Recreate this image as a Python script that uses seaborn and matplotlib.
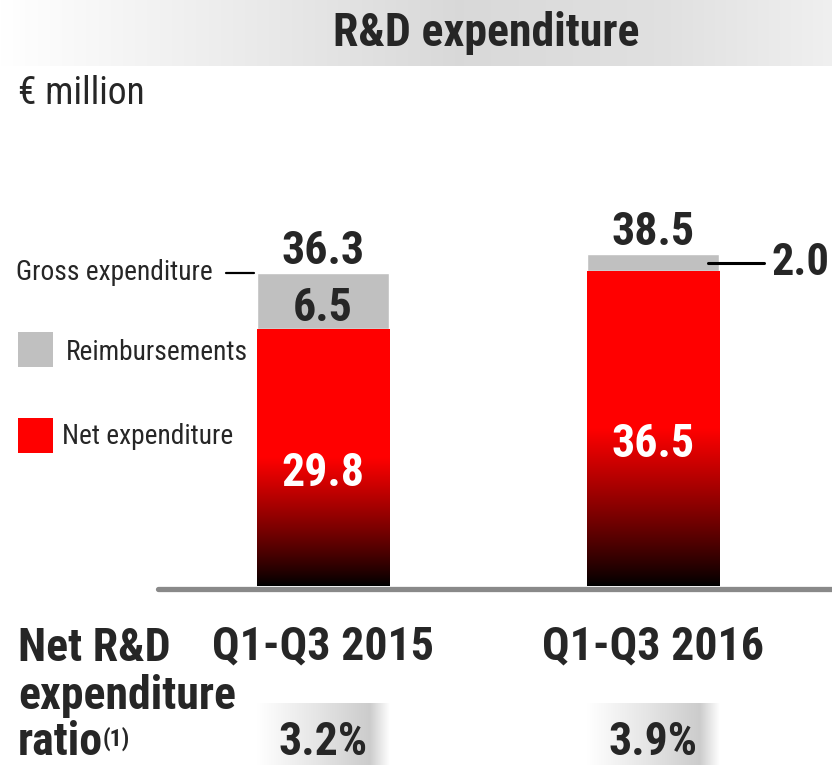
import numpy as np
import pandas as pd
import matplotlib
matplotlib.use('Agg')
import matplotlib.pyplot as plt
import matplotlib.transforms as mtransforms
from matplotlib.patches import Rectangle
import seaborn as sns

# chart values
periods = ['Q1-Q3 2015', 'Q1-Q3 2016']
net_exp = [29.8, 36.5]
reimbursements = [6.5, 2.0]
gross_exp = [36.3, 38.5]
net_ratio = ['3.2%', '3.9%']

df = pd.DataFrame({'period': periods, 'net': net_exp,
                   'reimb': reimbursements, 'gross': gross_exp})

sns.set_style('white')
plt.rcParams['font.family'] = ['Roboto Condensed', 'DejaVu Sans']

W, H = 832, 765
RED = '#ff0000'
GREY = '#c0c0c0'

fig = plt.figure(figsize=(W / 100, H / 100), dpi=100)

# background axes in pixel coordinates for decorations
bg = fig.add_axes([0, 0, 1, 1], zorder=0)
bg.axis('off')

# title band with grey gradient
t = np.linspace(0, 1, 400)
lvl = np.interp(t, [0, 0.3, 0.55, 0.8, 1], [1.0, 0.92, 0.85, 0.88, 0.94])
band = np.dstack([lvl, lvl, lvl]).reshape(1, -1, 3).repeat(2, axis=0)
bg.imshow(band, extent=[0, W, 66, 0], aspect='auto', interpolation='bilinear')
bg.text(486, 33, 'R&D expenditure', ha='center', va='center',
        fontsize=33, fontweight='bold')
bg.text(18, 93, '€ million', ha='left', va='center', fontsize=27)

# legend
bg.add_patch(Rectangle((18, 332), 35, 35, color=GREY, lw=0))
bg.text(66, 352, 'Reimbursements', va='center', fontsize=19.7)
bg.add_patch(Rectangle((18, 418), 35, 35, color=RED, lw=0))
bg.text(62, 436, 'Net expenditure', va='center', fontsize=19.7)

# main bar axes
ax = fig.add_axes([158 / W, (H - 586) / H, (W - 158) / W, (586 - 155) / H], zorder=2)
ax.patch.set_alpha(0)

sns.barplot(data=df, x='period', y='gross', color=GREY, saturation=1,
            width=0.4, errorbar=None, ax=ax)
n0 = len(ax.patches)
sns.barplot(data=df, x='period', y='net', color=RED, saturation=1,
            width=0.4, errorbar=None, ax=ax)
net_bars = ax.patches[n0:]

# red -> black gradient on the net bars
for p in net_bars:
    x0, w, h = p.get_x(), p.get_width(), p.get_height()
    tt = np.linspace(0, 1, 256)
    r = np.clip(tt / 0.5, 0, 1) ** 0.9
    img = np.zeros((256, 1, 3))
    img[:, 0, 0] = r
    im = ax.imshow(img, extent=[x0, x0 + w, 0, h], origin='lower', aspect='auto',
                   interpolation='bilinear', zorder=p.get_zorder() + 0.1)
    im.set_clip_path(p)

ax.set_xlim(-0.5, 1.542)
ax.set_ylim(0, 50)
sns.despine(ax=ax, left=True, bottom=True)
ax.set_yticks([])
ax.set_xlabel('')
ax.set_ylabel('')
ax.tick_params(axis='x', length=0, pad=28)
for lab in ax.get_xticklabels():
    lab.set_fontsize(33)
    lab.set_fontweight('bold')

# baseline
ax.axhline(-0.3, color='#898989', lw=3.8, clip_on=False, zorder=5)

# value labels
big = dict(fontsize=33, fontweight='bold', ha='center')
for i in range(len(periods)):
    ax.text(i, gross_exp[i] + 1.1, f'{gross_exp[i]:.1f}', va='baseline', **big)
    ax.text(i, net_exp[i] / 2 - 3.3, f'{net_exp[i]:.1f}', va='baseline',
            color='white', zorder=6, **big)
    if reimbursements[i] > 4:
        ax.text(i, net_exp[i] + reimbursements[i] / 2 - 2.3,
                f'{reimbursements[i]:.1f}', va='baseline', zorder=6, **big)
    else:
        ymid = net_exp[i] + reimbursements[i] / 2
        ax.plot([i + 0.167, i + 0.336], [ymid, ymid], color='black', lw=2.2,
                clip_on=False, zorder=6)
        ax.text(i + 0.36, ymid, f'{reimbursements[i]:.1f}', va='center',
                ha='left', fontsize=32, fontweight='bold', clip_on=False)

# gross expenditure pointer
ax.plot([-0.294, -0.209], [gross_exp[0], gross_exp[0]], color='black', lw=1.6,
        clip_on=False)
ax.text(-0.333, gross_exp[0] + 0.1, 'Gross expenditure', ha='right', va='center',
        fontsize=19.7, clip_on=False)

# bottom ratio row
bg.text(18, 661, 'Net R&D', va='baseline', fontsize=33, fontweight='bold')
bg.text(18, 709, 'expenditure', va='baseline', fontsize=33, fontweight='bold')
rt = bg.text(18, 755, 'ratio', va='baseline', fontsize=33, fontweight='bold')
bg.annotate('(1)', xy=(1, 1), xycoords=rt, xytext=(0, -5), textcoords='offset points',
            va='top', ha='left', fontsize=17, fontweight='bold')

tt = np.linspace(0, 1, 200)
glvl = np.interp(tt, [0, 0.45, 0.85, 1], [1.0, 0.9, 0.8, 1.0])
gbox = np.dstack([glvl, glvl, glvl]).reshape(1, -1, 3).repeat(2, axis=0)
blend = mtransforms.blended_transform_factory(ax.transData, bg.transData)
for i, p in enumerate(net_bars):
    xa = ax.transData.transform((p.get_x(), 0))[0]
    xb = ax.transData.transform((p.get_x() + p.get_width(), 0))[0]
    bg.imshow(gbox, extent=[xa, xb, H, 703], aspect='auto', interpolation='bilinear')
    ax.text(i, 755, net_ratio[i], transform=blend, ha='center', va='baseline',
            fontsize=33, fontweight='bold', zorder=6)

bg.set_xlim(0, W)
bg.set_ylim(H, 0)

fig.savefig('out.png', dpi=100)
